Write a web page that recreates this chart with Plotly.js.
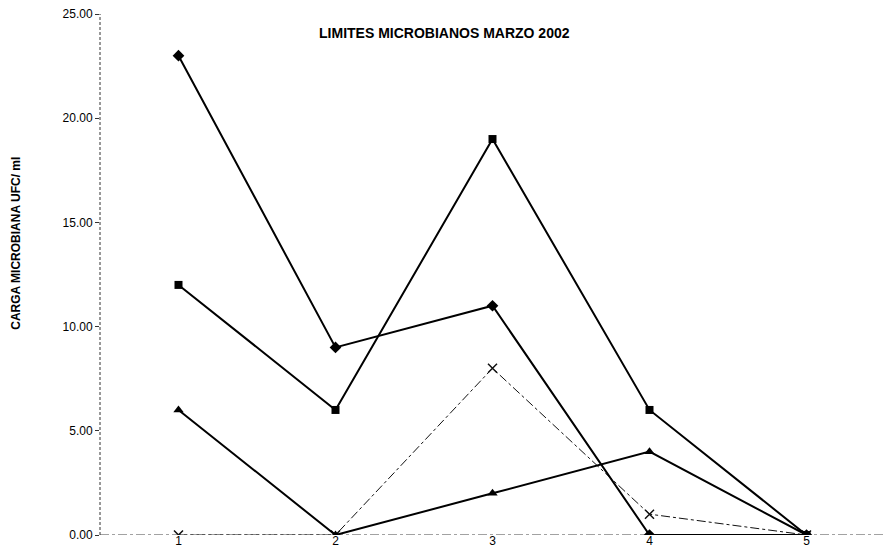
<!DOCTYPE html>
<html>
<head>
<meta charset="utf-8">
<script src="https://cdn.plot.ly/plotly-3.0.1.min.js"></script>
<style>html,body{margin:0;padding:0;background:#fff;}#chart{width:885px;height:548px;}</style>
</head>
<body>
<div id="chart"></div>
<script>
var categories = [1, 2, 3, 4, 5];
var seriesDiamond = [23, 9, 11, 0, 0];
var seriesSquare = [12, 6, 19, 6, 0];
var seriesTriangle = [6, 0, 2, 4, 0];
var seriesCross = [0, 0, 8, 1, 0];
var yTicks = [0, 5, 10, 15, 20, 25];

var traces = [
  {x: categories, y: seriesCross, mode: 'lines+markers', name: 'x',
   line: {color: '#111', width: 1, dash: 'dashdot'},
   marker: {symbol: 'x-thin-open', size: 9, color: '#111', line: {color: '#111', width: 1.5}}},
  {x: categories, y: seriesTriangle, mode: 'lines+markers', name: 'triangle',
   line: {color: '#000', width: 2}, marker: {symbol: 'triangle-up', size: 9, color: '#000'}},
  {x: categories, y: seriesSquare, mode: 'lines+markers', name: 'square',
   line: {color: '#000', width: 2}, marker: {symbol: 'square', size: 8, color: '#000'}},
  {x: categories, y: seriesDiamond, mode: 'lines+markers', name: 'diamond',
   line: {color: '#000', width: 2}, marker: {symbol: 'diamond', size: 9, color: '#000'}}
];

var layout = {
  width: 885, height: 548,
  margin: {l: 100, r: 0, t: 14, b: 13},
  paper_bgcolor: '#fff', plot_bgcolor: '#fff',
  showlegend: false,
  font: {family: 'Liberation Sans, Arial, sans-serif', color: '#000'},
  title: {text: '<b>LIMITES MICROBIANOS MARZO 2002</b>', font: {size: 14, color: '#000'},
          x: 0.502, xref: 'container', xanchor: 'center', y: 0.94, yref: 'container', yanchor: 'middle'},
  xaxis: {range: [0.5, 5.5], tickvals: categories, ticktext: categories.map(String),
          showgrid: false, zeroline: false, showline: false, ticks: '',
          ticklabelstandoff: -3, tickfont: {size: 12}, fixedrange: true},
  yaxis: {range: [0, 25], tickvals: yTicks, tickformat: '.2f',
          showgrid: false, zeroline: false, showline: false,
          ticks: 'outside', ticklen: 4, tickcolor: '#333',
          tickfont: {size: 12}, fixedrange: true},
  shapes: [
    {type: 'line', xref: 'paper', yref: 'y', x0: 0, x1: 1, y0: 0, y1: 0,
     line: {color: '#444', width: 1, dash: 'dashdot'}, layer: 'below'},
    {type: 'line', xref: 'paper', yref: 'paper', x0: 0, x1: 0, y0: 0, y1: 1,
     line: {color: '#333', width: 1, dash: '3px,2px'}, layer: 'below'}
  ],
  annotations: [
    {text: '<b>CARGA MICROBIANA UFC/ ml</b>', xref: 'paper', yref: 'paper',
     x: -0.107, y: 0.559, xanchor: 'center', yanchor: 'middle', textangle: -90,
     showarrow: false, font: {size: 12, color: '#000'}}
  ]
};

Plotly.newPlot('chart', traces, layout, {displayModeBar: false, staticPlot: true});
</script>
</body>
</html>
